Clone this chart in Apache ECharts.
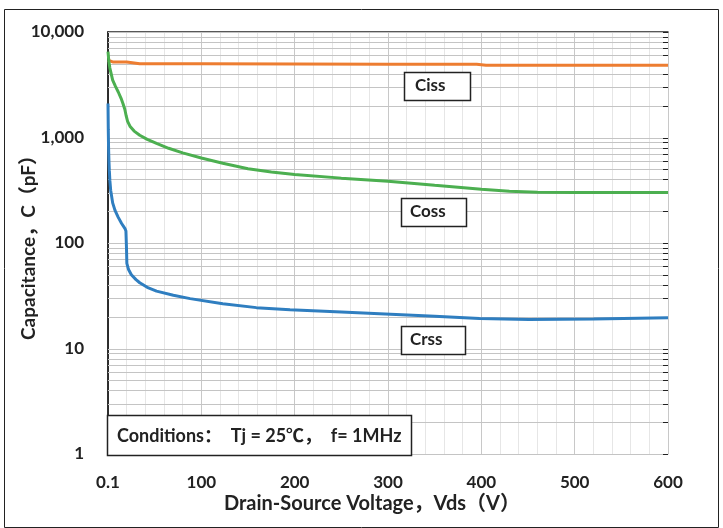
<!DOCTYPE html>
<html>
<head>
<meta charset="utf-8">
<script src="https://cdn.jsdelivr.net/npm/echarts@6/dist/echarts.min.js"></script>
<style>html,body{margin:0;padding:0;background:#fff}#main{width:723px;height:528px}</style>
</head>
<body>
<div id="main"></div>
<script>
// capacitance vs drain-source voltage
var cissV = [0, 0.5, 5, 20, 34, 100, 200, 300, 395, 405, 500, 600];
var cissC = [5400, 5250, 5200, 5200, 5000, 5000, 4980, 4960, 4950, 4850, 4850, 4850];

var cossV = [0, 1, 2, 5, 8, 11, 14, 16, 18, 19.5, 21, 23.5, 28, 34, 42, 52, 65, 80, 100, 123, 150, 175, 200, 250, 300, 350, 400, 430, 460, 500, 600];
var cossC = [6500, 5200, 4550, 3500, 3050, 2700, 2350, 2100, 1850, 1600, 1420, 1280, 1150, 1050, 960, 880, 790, 715, 640, 570, 505, 470, 445, 412, 385, 352, 323, 310, 303, 301, 301];

var crssV = [0, 0.3, 0.6, 1, 1.4, 2, 2.9, 5, 7.5, 11, 14.6, 18.2, 19.2, 19.8, 20.2, 22, 25, 30, 34, 42, 52, 70, 88, 123, 159, 195, 250, 291, 350, 398, 451, 520, 600];
var crssC = [2100, 1200, 800, 600, 490, 390, 315, 240, 204, 175, 153, 137, 130, 90, 64, 56, 50, 45, 42, 38, 35, 32, 29.7, 26.6, 24.4, 23.3, 22.2, 21.4, 20.2, 19.2, 18.8, 19, 19.6];

var yTicks = ['1', '10', '100', '1,000', '10,000'];

function pairs(xs, ys) {
	var out = [];
	for (var i = 0; i < xs.length; i++) {
		out.push([xs[i], ys[i]]);
	}
	return out;
}

// every log grid line: 1..9, 10..90, ...
var gridLines = [];
for (var d = 1; d <= 1000; d *= 10) {
	for (var m = 1; m <= 9; m++) {
		gridLines.push([0, d * m]);
	}
}
gridLines.push([0, 10000]);

var font = "Lato, 'Noto Sans CJK SC', sans-serif";

var myChart = echarts.init(document.getElementById('main'));
var option = {
	animation: false,
	backgroundColor: '#fff',
	grid: { left: 108, right: 55, top: 32, bottom: 74 },
	xAxis: [{
		type: 'value', min: 0, max: 600, interval: 100,
		name: 'Drain-Source Voltage，Vds（V）',
		nameLocation: 'middle', nameGap: 40, nameMoveOverlap: false,
		nameTextStyle: { fontFamily: font, fontSize: 20, fontWeight: 'bold', color: '#222', padding: [0, 32, 0, 0] },
		axisLine: { show: true, lineStyle: { color: '#c4c4c4', width: 1 } },
		axisTick: { show: false },
		axisLabel: {
			margin: 20, fontFamily: font, fontSize: 17, fontWeight: 'bold', color: '#222',
			formatter: function (v) { return v === 0 ? '0.1' : String(v); }
		},
		splitLine: { show: true, lineStyle: { color: '#c8c8c8', width: 1 } },
		minorTick: { show: false, splitNumber: 5 },
		minorSplitLine: { show: true, lineStyle: { color: '#e6e6e6', width: 1 } }
	}, {
		type: 'value', min: 0, max: 600, position: 'top',
		axisLine: { show: true, lineStyle: { color: '#222', width: 1.5 } },
		axisTick: { show: false }, axisLabel: { show: false }, splitLine: { show: false }
	}],
	yAxis: [{
		type: 'log', logBase: 10, min: 1, max: 10000,
		name: 'Capacitance，C（pF）',
		nameLocation: 'middle', nameGap: 70, nameMoveOverlap: false,
		nameTextStyle: { fontFamily: font, fontSize: 19, fontWeight: 'bold', color: '#222' },
		axisLine: { show: true, lineStyle: { color: '#222', width: 1.5 } },
		axisTick: { show: false },
		axisLabel: {
			margin: 24, fontFamily: font, fontSize: 17, fontWeight: 'bold', color: '#222',
			formatter: function (v) { return yTicks[Math.round(Math.log10(v))]; }
		},
		splitLine: { show: false }
	}, {
		type: 'log', logBase: 10, min: 1, max: 10000, position: 'right',
		axisLine: { show: true, lineStyle: { color: '#222', width: 1.5 } },
		axisTick: { show: false }, axisLabel: { show: false }, splitLine: { show: false }
	}],
	series: [{
		type: 'custom', silent: true, z: 1,
		data: gridLines,
		encode: { x: 0, y: 1 },
		renderItem: function (params, api) {
			var v = api.value(1);
			var p1 = api.coord([0, v]);
			var p2 = api.coord([600, v]);
			var y = Math.round(p1[1]) + 0.5;
			return {
				type: 'group', children: [
					{ type: 'line', shape: { x1: p1[0], y1: y, x2: p2[0], y2: y }, style: { stroke: '#c4c4c4', lineWidth: 1 } },
					{ type: 'line', shape: { x1: p2[0] - 5, y1: y, x2: p2[0], y2: y }, style: { stroke: '#222', lineWidth: 1 } }
				]
			};
		}
	}, {
		name: 'Ciss', type: 'line', z: 3, showSymbol: false, silent: true,
		data: pairs(cissV, cissC),
		lineStyle: { color: '#ED7D31', width: 3 }
	}, {
		name: 'Coss', type: 'line', z: 3, showSymbol: false, silent: true,
		data: pairs(cossV, cossC),
		lineStyle: { color: '#4CAF50', width: 3 }
	}, {
		name: 'Crss', type: 'line', z: 3, showSymbol: false, silent: true,
		data: pairs(crssV, crssC),
		lineStyle: { color: '#2F7EC0', width: 3 }
	}],
	graphic: [
		{ type: 'rect', z: 100, shape: { x: 4.5, y: 9.5, width: 714, height: 518 }, style: { fill: null, stroke: '#222', lineWidth: 1 } },
		{ type: 'rect', z: 100, shape: { x: 404.5, y: 72.5, width: 66, height: 28 }, style: { fill: '#fff', stroke: '#222', lineWidth: 1.5 } },
		{ type: 'text', z: 101, x: 415, y: 86, style: { text: 'Ciss', fill: '#222', font: 'bold 17px ' + font, verticalAlign: 'middle' } },
		{ type: 'rect', z: 100, shape: { x: 401.5, y: 198.5, width: 65, height: 28 }, style: { fill: '#fff', stroke: '#222', lineWidth: 1.5 } },
		{ type: 'text', z: 101, x: 410, y: 212, style: { text: 'Coss', fill: '#222', font: 'bold 17px ' + font, verticalAlign: 'middle' } },
		{ type: 'rect', z: 100, shape: { x: 401.5, y: 326.5, width: 64, height: 28 }, style: { fill: '#fff', stroke: '#222', lineWidth: 1.5 } },
		{ type: 'text', z: 101, x: 410, y: 340, style: { text: 'Crss', fill: '#222', font: 'bold 17px ' + font, verticalAlign: 'middle' } },
		{ type: 'rect', z: 100, shape: { x: 107.5, y: 415.5, width: 304, height: 40 }, style: { fill: '#fff', stroke: '#222', lineWidth: 1.5 } },
		{ type: 'text', z: 101, x: 117, y: 436, style: { text: 'Conditions：  Tj = 25℃，  f= 1MHz', fill: '#222', font: 'bold 18px ' + font, verticalAlign: 'middle' } }
	]
};
myChart.setOption(option);
</script>
</body>
</html>
